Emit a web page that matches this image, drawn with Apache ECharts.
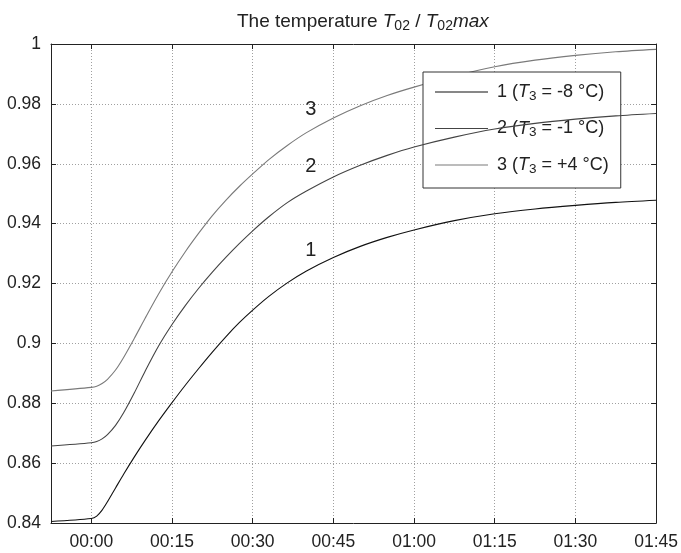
<!DOCTYPE html>
<html>
<head>
<meta charset="utf-8">
<script src="https://cdn.jsdelivr.net/npm/echarts@6/dist/echarts.min.js"></script>
<style>
html,body{margin:0;padding:0;background:#fff;}
#chart{width:681px;height:553px;}
</style>
</head>
<body>
<div id="chart"></div>
<script>
// time in minutes relative to 00:00
const minutes = [-7.5, 0, 1, 2, 3, 4.5, 6, 8, 10, 12.5, 15, 17.5, 20, 22.5, 25, 27.5, 30, 33, 36.5, 40, 45, 50, 55, 60, 67.5, 75, 82.5, 90, 97.5, 105];
const curve1 = [0.8405, 0.8415, 0.8423, 0.8443, 0.8471, 0.8517, 0.8563, 0.8621, 0.8676, 0.8741, 0.8802, 0.8861, 0.8917, 0.8971, 0.9022, 0.9069, 0.9111, 0.9157, 0.9203, 0.9242, 0.9287, 0.9324, 0.9354, 0.9379, 0.9410, 0.9433, 0.9449, 0.9461, 0.9471, 0.9478];
const curve2 = [0.8657, 0.8668, 0.8672, 0.8681, 0.8695, 0.8726, 0.8768, 0.8835, 0.8907, 0.8991, 0.9063, 0.9127, 0.9185, 0.9238, 0.9287, 0.9333, 0.9376, 0.9423, 0.9471, 0.9509, 0.9556, 0.9595, 0.9628, 0.9656, 0.9689, 0.9716, 0.9735, 0.9749, 0.9760, 0.9768];
const curve3 = [0.8841, 0.8853, 0.8857, 0.8866, 0.8880, 0.8911, 0.8953, 0.9017, 0.9084, 0.9165, 0.9239, 0.9307, 0.9369, 0.9427, 0.9478, 0.9524, 0.9566, 0.9614, 0.9662, 0.9704, 0.9753, 0.9794, 0.9828, 0.9856, 0.9893, 0.9924, 0.9946, 0.9962, 0.9974, 0.9982];
const xTicks = [0, 15, 30, 45, 60, 75, 90, 105];
const seriesNames = ['1', '2', '3'];
const seriesT3 = ['-8', '-1', '+4'];
// curve annotation labels: [minutes, value]
const curveLabelPos = [[40.8, 0.9310], [40.8, 0.9591], [40.8, 0.9781]];

const colors = ['#111111', '#444444', '#7a7a7a'];
const allCurves = [curve1, curve2, curve3];

function fmtTime(v) {
  const h = Math.floor(v / 60), m = Math.round(v % 60);
  return String(h).padStart(2, '0') + ':' + String(m).padStart(2, '0');
}

const FONT = '"Liberation Sans", Arial, sans-serif';
const gridLine = { show: true, lineStyle: { color: '#a0a0a0', type: [1, 2], width: 1 } };

const chart = echarts.init(document.getElementById('chart'));
chart.setOption({
  animation: false,
  backgroundColor: '#fff',
  textStyle: { fontFamily: FONT },
  title: {
    left: 232, top: 6,
    text: '{n|The temperature }{i|T}{s|02}{n| / }{i|T}{s|02}{i|max}',
    textStyle: {
      fontWeight: 'normal',
      rich: {
        n: { fontSize: 19, color: '#222', fontWeight: 'normal', fontFamily: FONT, lineHeight: 22 },
        i: { fontSize: 19, color: '#222', fontWeight: 'normal', fontStyle: 'italic', fontFamily: FONT, lineHeight: 22 },
        s: { fontSize: 14, color: '#222', fontWeight: 'normal', fontFamily: FONT, lineHeight: 18, verticalAlign: 'bottom' }
      }
    }
  },
  grid: { left: 51, right: 23, top: 44, bottom: 30, containLabel: false },
  legend: {
    orient: 'vertical', left: 423, top: 72,
    padding: [11, 12, 12, 12],
    backgroundColor: '#fff', borderColor: '#333', borderWidth: 1, borderRadius: 0,
    icon: 'rect', itemWidth: 53, itemHeight: 1.2, itemGap: 16.5,
    data: seriesNames,
    formatter: function (name) {
      const i = seriesNames.indexOf(name);
      return '{n|' + name + ' (}{i|T}{sub|3}{n| = ' + seriesT3[i] + ' °C)}';
    },
    textStyle: {
      padding: [0, 0, 0, 4],
      rich: {
        n: { fontSize: 18, color: '#222', fontFamily: FONT, lineHeight: 22 },
        i: { fontSize: 18, color: '#222', fontStyle: 'italic', fontFamily: FONT, lineHeight: 22 },
        sub: { fontSize: 13.5, color: '#222', fontFamily: FONT, lineHeight: 12, verticalAlign: 'bottom' }
      }
    }
  },
  xAxis: [{
    type: 'value', position: 'bottom', min: -7.5, max: 105,
    axisLine: { show: true, onZero: false, lineStyle: { color: '#222', width: 1 } },
    axisTick: { show: true, inside: true, length: 5, customValues: xTicks, lineStyle: { color: '#222' } },
    axisLabel: { customValues: xTicks, formatter: fmtTime, fontSize: 17.5, color: '#222', margin: 10, fontFamily: FONT },
    splitLine: gridLine
  }, {
    type: 'value', position: 'top', min: -7.5, max: 105,
    axisLine: { show: true, onZero: false, lineStyle: { color: '#222', width: 1 } },
    axisTick: { show: true, inside: true, length: 5, customValues: xTicks, lineStyle: { color: '#222' } },
    axisLabel: { show: false },
    splitLine: { show: false }
  }],
  yAxis: [{
    type: 'value', position: 'left', min: 0.84, max: 1, interval: 0.02,
    axisLine: { show: true, onZero: false, lineStyle: { color: '#222', width: 1 } },
    axisTick: { show: true, inside: true, length: 5, lineStyle: { color: '#222' } },
    axisLabel: { fontSize: 17.5, color: '#222', margin: 10, fontFamily: FONT,
      formatter: function (v) { return String(parseFloat(v.toFixed(2))); } },
    splitLine: gridLine
  }, {
    type: 'value', position: 'right', min: 0.84, max: 1, interval: 0.02,
    axisLine: { show: true, onZero: false, lineStyle: { color: '#222', width: 1 } },
    axisTick: { show: true, inside: true, length: 5, lineStyle: { color: '#222' } },
    axisLabel: { show: false },
    splitLine: { show: false }
  }],
  series: allCurves.map(function (c, k) {
    return {
      name: seriesNames[k], type: 'line', xAxisIndex: 0, yAxisIndex: 0,
      data: minutes.map(function (m, j) { return [m, c[j]]; }),
      symbol: 'none', smooth: 0.3,
      lineStyle: { color: colors[k], width: 1.1 },
      itemStyle: { color: colors[k] },
      z: 5 - k,
      markPoint: {
        symbol: 'circle', symbolSize: 1, itemStyle: { color: 'rgba(0,0,0,0)' },
        label: { show: true, position: 'inside', formatter: seriesNames[k], fontSize: 20, color: '#222', fontFamily: FONT },
        data: [{ coord: curveLabelPos[k] }]
      }
    };
  })
});
</script>
</body>
</html>
